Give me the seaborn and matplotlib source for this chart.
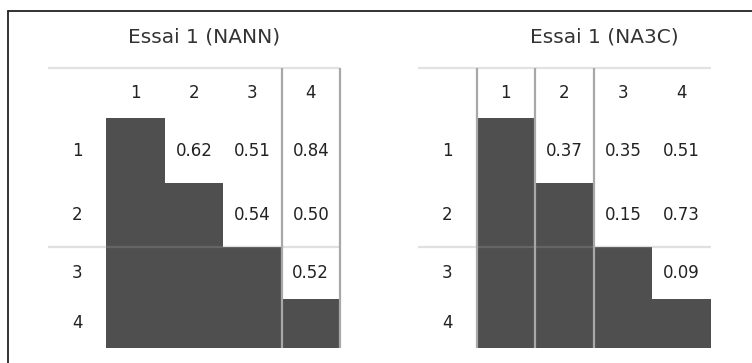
import matplotlib.pyplot as plt
import pandas as pd
import seaborn as sns
from matplotlib.lines import Line2D

# Chart data
titles = ["Essai 1 (NANN)", "Essai 1 (NA3C)"]
labels = ["1", "2", "3", "4"]
# upper-triangle values, keyed (row, col)
values_nann = {(0, 1): "0.62", (0, 2): "0.51", (0, 3): "0.84",
               (1, 2): "0.54", (1, 3): "0.50", (2, 3): "0.52"}
values_na3c = {(0, 1): "0.37", (0, 2): "0.35", (0, 3): "0.51",
               (1, 2): "0.15", (1, 3): "0.73", (2, 3): "0.09"}
values = [values_nann, values_na3c]
# group separators: column boundaries and row boundaries
col_breaks = [[2.5, 3.5], [-0.5, 0.5, 1.5]]
row_breaks = [[2], [2]]

# Layout (pixel heights measured from table bottom)
row_top = [230, 165, 101, 49, 0]
header_top = 280
dark = "#4f4f4f"
text_c = "#222222"

sns.set_theme(style="white")
plt.rcParams["font.family"] = ["DejaVu Sans"]

fig = plt.figure(figsize=(7.52, 3.63), dpi=100)
W, H = 752, 363
panels = [(48, 340, 204), (418, 711, 604)]

for k, (x0, x1, tx) in enumerate(panels):
    ax = fig.add_axes([x0 / W, 1 - 348 / H, (x1 - x0) / W, 280 / H])
    df = pd.DataFrame({"col": labels, "top": row_top[:4]})
    sns.barplot(data=df, x="col", y="top", color=dark, width=1.0,
                linewidth=0, saturation=1, ax=ax)
    ax.set_xlim(-1.5, 3.5)
    ax.set_ylim(0, header_top)
    ax.axis("off")

    hy = (header_top + row_top[0]) / 2
    for j, lab in enumerate(labels):
        ax.text(j, hy, lab, ha="center", va="center", fontsize=12, color=text_c)
        ry = (row_top[j] + row_top[j + 1]) / 2
        ax.text(-1, ry, lab, ha="center", va="center", fontsize=12, color=text_c)
    for (i, j), v in values[k].items():
        ry = (row_top[i] + row_top[i + 1]) / 2
        ax.text(j, ry, v, ha="center", va="center", fontsize=12, color=text_c)

    # grid lines
    ax.plot([-1.5, 3.5], [header_top, header_top], color="#e2e2e2", lw=1.6,
            clip_on=False, solid_capstyle="butt")
    for r in row_breaks[k]:
        ax.plot([-1.5, 3.5], [row_top[r], row_top[r]], color="#9a9a9a",
                alpha=0.3, lw=1.6, clip_on=False, solid_capstyle="butt")
    for c in col_breaks[k]:
        ax.plot([c, c], [0, header_top], color="#a8a8a8", lw=1.6,
                clip_on=False, solid_capstyle="butt")

    fig.text(tx / W, 1 - 37 / H, titles[k], ha="center", va="center",
             fontsize=14.5, color="#333333")

# outer frame (only top and left edges visible)
fig.add_artist(Line2D([8 / W, 1], [1 - 11 / H, 1 - 11 / H], color="#222222", lw=1.3))
fig.add_artist(Line2D([8 / W, 8 / W], [0, 1 - 11 / H], color="#222222", lw=1.3))

fig.savefig("out.png", dpi=100)
